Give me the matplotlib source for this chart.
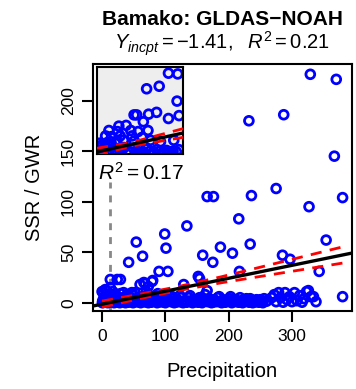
import matplotlib
matplotlib.use("Agg")
import matplotlib.pyplot as plt
import numpy as np

plt.rcParams["font.family"] = ["Liberation Sans", "DejaVu Sans"]
plt.rcParams["mathtext.fontset"] = "custom"
plt.rcParams["mathtext.rm"] = "Liberation Sans"
plt.rcParams["mathtext.it"] = "Liberation Sans:italic"

# scattered points above the dense band (precipitation, SSR/GWR)
upper_x = [329, 370, 232, 287, 367, 275, 236, 166, 176, 380, 327, 216, 134, 99, 54,
           101, 187, 234, 354, 206, 159, 64, 42, 175, 285, 297, 90, 104, 217, 343,
           152, 154, 24, 29, 13, 80, 66, 79, 60, 68, 73, 129, 13, 5, 0, 34, 47, 166, 380]
upper_y = [226, 221, 180, 186, 145, 113, 106, 105, 105, 104, 95, 83, 76, 68, 60,
           54, 55, 58, 62, 49, 47, 46, 40, 40, 47, 43, 31, 31, 31, 31,
           26, 24, 23, 23, 23, 22, 20, 21, 18, 19, 16, 18, 15, 13, 11, 10, 10, 12, 6]

# dense band near zero
band_x = [1, 3, 4, 6, 8, 10, 11, 14, 16, 18, 20, 22, 25, 27, 30, 33, 36, 38, 41, 44, 47, 50,
          53, 56, 59, 62, 65, 69, 72, 75, 78, 82, 85, 88, 91, 95, 98, 102, 105, 109, 112,
          116, 119, 123, 126, 130, 134, 137, 141, 145, 148,
          152, 156, 160, 163, 167, 171, 175, 179, 183, 187, 191, 195, 199, 203, 207, 211,
          216, 220, 224, 228, 232, 236, 240, 244, 248, 252, 256,
          268, 272, 275, 279, 282, 286, 289, 292, 296, 300, 304, 308, 312, 316, 319, 323,
          326, 330, 334, 338,
          2, 7, 12, 17, 23, 29, 35, 40, 46, 52, 58, 64, 70, 77, 84, 90, 97, 104, 111,
          118, 125, 132, 139, 146, 154, 161, 169, 177, 185, 193, 201, 209, 218, 226,
          234, 242, 250,
          0.5, 5, 9, 15, 19, 24, 28, 32, 37, 43, 49, 55, 61, 67, 73, 80, 87, 93, 100,
          107, 114, 121, 128, 135, 143, 150, 158, 165, 173, 181, 189, 197, 205, 213,
          222, 230, 238, 246, 254, 260]
band_y = [2, 5, 1, 8, 3, 0.5, 6, 2, 4, 1, 7, 3, 0.5, 5, 2, 1, 6, 3, 0.5, 4, 2, 7,
          1, 3, 0.5, 5, 2, 1, 8, 3, 0.5, 4, 2, 9, 1, 3, 0.5, 6, 2, 1, 4,
          0.5, 3, 7, 1, 2, 0.5, 5, 2, 1, 3,
          0.5, 4, 2, 8, 1, 3, 0.5, 2, 5, 1, 3, 0.5, 2, 6, 1, 3,
          0.5, 2, 1, 4, 0.5, 2, 1, 3, 0.5, 2, 4,
          5, 8, 1, 10, 5, 0.5, 10, 3, 6, 1, 10, 2, 7, 0.5, 4, 11,
          12, 6, 6, 1,
          10, 12, 9, 11, 4, 9, 3, 8, 5, 10, 4, 6, 11, 5, 7, 3, 8, 4, 6,
          3, 5, 2, 7, 3, 5, 2, 4, 3, 6, 2, 4, 3, 5, 2,
          4, 1, 3,
          0, 1, 0, 1.5, 0, 1, 0, 1.5, 0, 1, 0, 1.5, 0, 1, 0, 1.5, 0, 1, 0,
          1.5, 0, 1, 0, 1.5, 0, 1, 0, 1.5, 0, 1, 0, 1.5, 0, 1,
          0, 1.5, 0, 1, 0, 1.5]

# regression fit and confidence band
fit_intercept = -1.41
fit_slope = 0.128
ci_x = [0, 60, 120, 190, 266, 380]
ci_half = [3.0, 2.2, 2.0, 3.0, 5.0, 8.0]

# inset: low precipitation detail
inset_x = [10.8, 12.2, 7.5, 9.4, 12.1, 5.6, 6.0, 7.8, 9.0, 10.8, 12.4, 7.0, 4.4, 3.3, 1.8,
           3.1, 5.1, 6.2, 7.7, 1.3, 2.2, 3.5, 5.3, 6.8, 2.1, 3.0, 4.0, 5.6, 8.1, 9.6, 11.6, 12.4,
           0.2, 0.6, 1.0, 1.4, 1.8, 2.3, 2.7, 3.2, 3.6, 4.1, 4.6, 5.0, 5.5, 6.0, 6.5, 7.0,
           7.5, 8.0, 8.5, 9.0, 9.5, 10.0, 10.5, 11.0, 11.5, 12.0, 0.4, 0.8, 1.2, 1.6]
inset_y = [22.3, 22.1, 18.0, 18.7, 14.6, 10.8, 10.8, 11.0, 11.5, 9.8, 10.6, 8.9, 7.9, 7.7, 6.5,
           6.2, 6.5, 6.2, 6.5, 5.0, 4.8, 5.0, 5.0, 4.6, 3.4, 3.6, 3.8, 3.6, 3.8, 3.4, 3.8, 1.2,
           1.0, 2.0, 0.6, 1.8, 1.0, 2.2, 0.8, 1.5, 0.6, 1.8, 1.0, 0.6, 1.6, 0.8, 1.2, 0.6,
           1.4, 0.8, 0.6, 1.2, 0.8, 0.6, 1.0, 0.6, 0.8, 0.6, 3.0, 2.6, 2.4, 3.2]
inset_intercept = 0.6
inset_slope = 0.40
inset_ci_x = [0, 5, 13]
inset_ci_half = [1.0, 0.5, 1.2]

threshold_x = 13
threshold_top = 119

fig = plt.figure(figsize=(3.56, 3.89), dpi=100, facecolor="white")
ax = fig.add_axes([0.260, 0.201, 0.729, 0.634])

blue = "#0000ff"
mk = dict(s=40, facecolors="none", edgecolors=blue, linewidths=2.0, zorder=2)
ax.plot([threshold_x, threshold_x], [-10, threshold_top], color="#888888", lw=2,
        ls=(0, (2.5, 2.5)), zorder=1)
ax.scatter(band_x, band_y, **mk)
ax.scatter(upper_x, upper_y, **mk)

xl = np.array([-15, 395])
ax.plot(xl, fit_intercept + fit_slope * xl, color="black", lw=2.4, zorder=4)
cx = np.array(ci_x)
cy = fit_intercept + fit_slope * cx
ax.plot(cx, cy + np.array(ci_half), color="red", lw=2.0, ls=(0, (4, 3)), zorder=3)
ax.plot(cx, cy - np.array(ci_half), color="red", lw=2.0, ls=(0, (4, 3)), zorder=3)

ax.set_xlim(-15, 395)
ax.set_ylim(-8, 236)
ax.set_xticks([0, 100, 200, 300])
ax.set_yticks([0, 50, 100, 150, 200])
ax.tick_params(direction="out", length=8, width=1.5, labelsize=12.5, pad=5)
ax.tick_params(axis="y", labelrotation=90, pad=4)
for lab in ax.get_yticklabels():
    lab.set_va("center")
for sp in ax.spines.values():
    sp.set_linewidth(1.5)
ax.set_xlabel("Precipitation", fontsize=14.5, labelpad=13)
ax.set_ylabel("SSR / GWR", fontsize=14.5, labelpad=12)

ax.text(-7, 122, r"$R^2 = 0.17$", fontsize=15, ha="left", va="baseline")

# inset
axi = fig.add_axes([0.2725, 0.604, 0.2416, 0.2237])
axi.set_facecolor("#eeeeee")
axi.scatter(inset_x, inset_y, **mk)
ix = np.array([0, 13])
axi.plot(ix, inset_intercept + inset_slope * ix, color="black", lw=2.4, zorder=4)
icx = np.array(inset_ci_x)
icy = inset_intercept + inset_slope * icx
axi.plot(icx, icy + np.array(inset_ci_half), color="red", lw=2.0, ls=(0, (4, 3)), zorder=3)
axi.plot(icx, icy - np.array(inset_ci_half), color="red", lw=2.0, ls=(0, (4, 3)), zorder=3)
axi.set_xlim(0, 13)
axi.set_ylim(0, 24)
axi.set_xticks([])
axi.set_yticks([])
for sp in axi.spines.values():
    sp.set_linewidth(1.5)

fig.text(222 / 356, 1 - 25 / 389, "Bamako: GLDAS\u2212NOAH", fontsize=15, fontweight="bold",
         ha="center", va="baseline")
fig.text(222 / 356, 1 - 50 / 389, r"$Y_{incpt} = -1.41,\ \ R^2 = 0.21$", fontsize=14.5,
         ha="center", va="baseline")

fig.savefig("out.png", dpi=100)
plt.close(fig)
